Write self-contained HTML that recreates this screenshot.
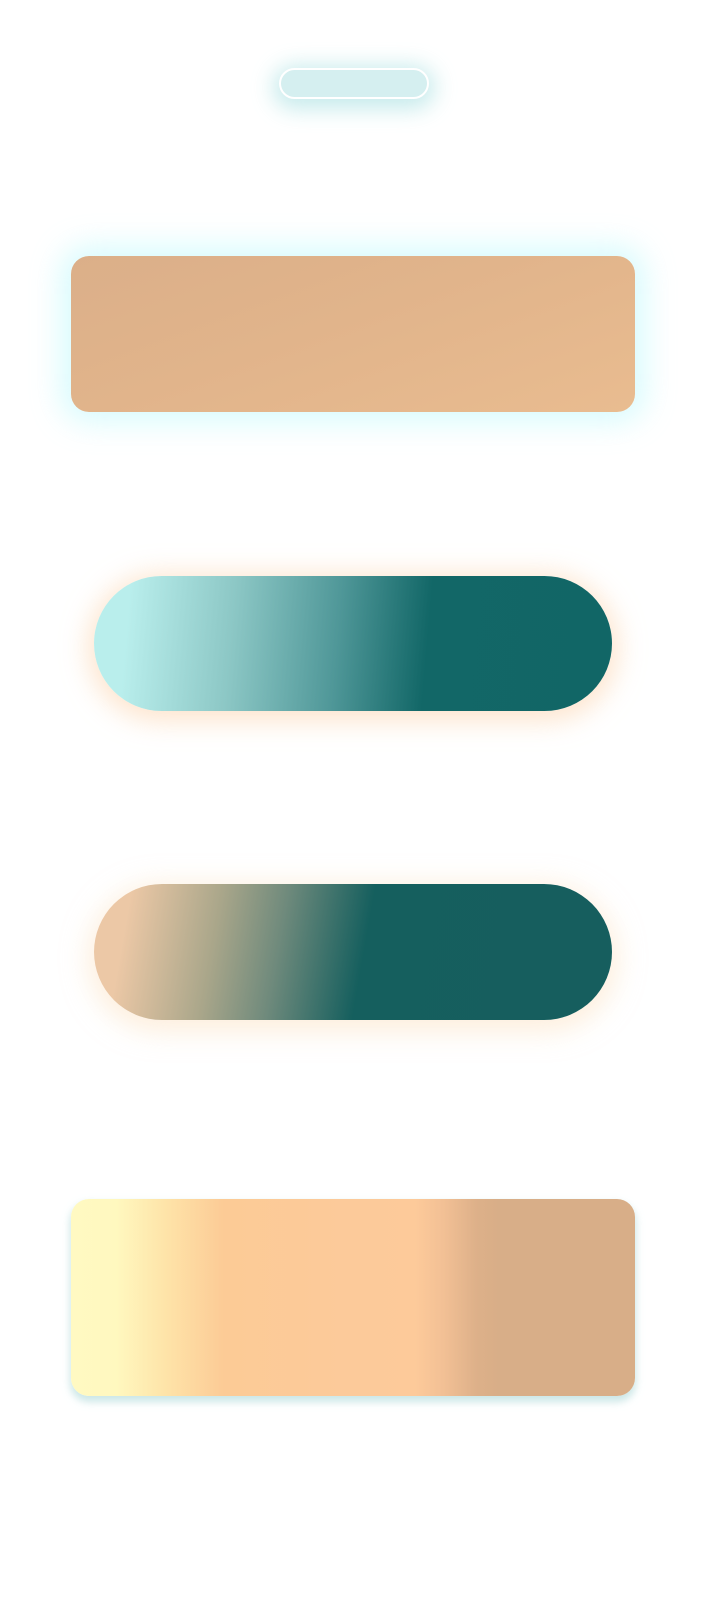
<!DOCTYPE html>
<html>
<head>
<meta charset="utf-8">
<style>
  html,body{margin:0;padding:0;background:#fff;}
  body{width:720px;height:1600px;position:relative;overflow:hidden;font-family:"Liberation Sans",sans-serif;}
  .s{position:absolute;box-sizing:border-box;}
  #pill{left:279px;top:68px;width:150px;height:31px;border-radius:16px;border:2px solid #fff;
    background:#d5eff0;box-shadow:0 4px 22px 6px rgba(180,228,230,0.75);}
  #r1{left:71px;top:256px;width:564px;height:156px;border-radius:18px;
    background:linear-gradient(160deg,#dbaf89 0%,#e1b48b 45%,#e9bc90 100%);
    box-shadow:0 0 30px 10px rgba(200,250,252,0.7);}
  #p2{left:94px;top:576px;width:518px;height:135px;border-radius:68px;
    background:linear-gradient(95deg,#b9eeec 7%,#8cc7c5 27%,#4f9798 47%,#126767 64%,#116666 100%);
    box-shadow:0 4px 26px 6px rgba(252,215,180,0.65);}
  #p3{left:94px;top:884px;width:518px;height:136px;border-radius:68px;
    background:linear-gradient(100deg,#ecc8a6 7%,#a9a68a 24%,#6f8a7c 36%,#155f5e 52%,#165e5e 100%);
    box-shadow:0 6px 26px 6px rgba(252,225,195,0.55);}
  #r4{left:71px;top:1199px;width:564px;height:197px;border-radius:18px;
    background:linear-gradient(90deg,#fff9c2 0%,#fff8bf 8%,#fee3a8 17%,#fccb96 27%,#fcca9a 50%,#fdca9a 61%,#f2c095 66%,#ddb089 72%,#d8ae88 76%,#d8ae88 100%);
    box-shadow:0 5px 8px 1px rgba(170,215,215,0.6);}
</style>
</head>
<body>
  <div id="pill" class="s"></div>
  <div id="r1" class="s"></div>
  <div id="p2" class="s"></div>
  <div id="p3" class="s"></div>
  <div id="r4" class="s"></div>
</body>
</html>
